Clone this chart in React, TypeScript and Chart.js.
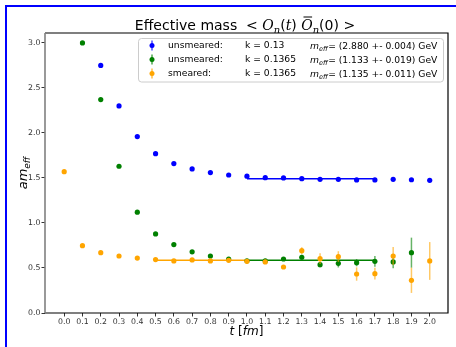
import React, { useEffect, useRef } from "react";
import { Chart, registerables } from "chart.js";
Chart.register(...registerables);

const xTicks = [0.0, 0.1, 0.2, 0.3, 0.4, 0.5, 0.6, 0.7, 0.8, 0.9, 1.0, 1.1, 1.2, 1.3, 1.4, 1.5, 1.6, 1.7, 1.8, 1.9, 2.0];
const yTicks = [0.0, 0.5, 1.0, 1.5, 2.0, 2.5, 3.0];

const tBlue = [0.2, 0.3, 0.4, 0.5, 0.6, 0.7, 0.8, 0.9, 1.0, 1.1, 1.2, 1.3, 1.4, 1.5, 1.6, 1.7, 1.8, 1.9, 2.0];
const blueValues = [2.75, 2.30, 1.96, 1.77, 1.66, 1.60, 1.56, 1.533, 1.52, 1.503, 1.50, 1.492, 1.485, 1.485, 1.478, 1.478, 1.485, 1.48, 1.474];
const blueErrors = [0.002, 0.002, 0.002, 0.002, 0.002, 0.002, 0.002, 0.002, 0.003, 0.003, 0.003, 0.003, 0.003, 0.004, 0.004, 0.004, 0.005, 0.005, 0.006];

const tGreen = [0.1, 0.2, 0.3, 0.4, 0.5, 0.6, 0.7, 0.8, 0.9, 1.0, 1.1, 1.2, 1.3, 1.4, 1.5, 1.6, 1.7, 1.8, 1.9];
const greenValues = [3.0, 2.37, 1.63, 1.12, 0.878, 0.76, 0.68, 0.633, 0.60, 0.58, 0.578, 0.60, 0.619, 0.537, 0.552, 0.559, 0.574, 0.567, 0.67];
const greenErrors = [0.003, 0.003, 0.003, 0.004, 0.005, 0.006, 0.008, 0.01, 0.012, 0.015, 0.015, 0.02, 0.028, 0.03, 0.046, 0.04, 0.06, 0.07, 0.167];

const tOrange = [0.0, 0.1, 0.2, 0.3, 0.4, 0.5, 0.6, 0.7, 0.8, 0.9, 1.0, 1.1, 1.2, 1.3, 1.4, 1.5, 1.6, 1.7, 1.8, 1.9, 2.0];
const orangeValues = [1.57, 0.748, 0.67, 0.633, 0.61, 0.593, 0.578, 0.589, 0.578, 0.585, 0.574, 0.567, 0.511, 0.692, 0.603, 0.626, 0.433, 0.437, 0.633, 0.363, 0.578];
const orangeErrors = [0.003, 0.003, 0.003, 0.004, 0.005, 0.006, 0.008, 0.01, 0.012, 0.015, 0.015, 0.015, 0.02, 0.037, 0.06, 0.06, 0.074, 0.065, 0.10, 0.14, 0.21];

const blueFitRange = [1.0, 1.7];
const blueFitValue = 1.49;
const greenFitRange = [1.0, 1.7];
const greenFitValue = 0.585;
const orangeFitRange = [0.5, 1.0];
const orangeFitValue = 0.585;

const legendNames = ["unsmeared:", "unsmeared:", "smeared:"];
const legendKappas = ["k = 0.13", "k = 0.1365", "k = 0.1365"];
const legendMeff = ["= (2.880 +- 0.004) GeV", "= (1.133 +- 0.019) GeV", "= (1.135 +- 0.011) GeV"];

const BLUE = "#0000ff";
const GREEN = "#008000";
const ORANGE = "#ffa500";
const legendColors = [BLUE, GREEN, ORANGE];
const FONT = "'DejaVu Sans', sans-serif";

const pts = (xs: number[], ys: number[]) => xs.map((x, i) => ({ x, y: ys[i] }));

const errorBarPlugin = {
  id: "errbars",
  beforeDatasetDraw(chart: any, args: any) {
    const ds = chart.data.datasets[args.index];
    if (!ds.errors) return;
    const ctx = chart.ctx;
    const xs = chart.scales.x;
    const ys = chart.scales.y;
    ctx.save();
    ctx.strokeStyle = ds.errorColor;
    ctx.lineWidth = 1.5;
    ds.data.forEach((p: any, i: number) => {
      const e = ds.errors[i];
      const px = xs.getPixelForValue(p.x);
      ctx.beginPath();
      ctx.moveTo(px, ys.getPixelForValue(p.y - e));
      ctx.lineTo(px, ys.getPixelForValue(p.y + e));
      ctx.stroke();
    });
    ctx.restore();
  },
};

function drawPieces(ctx: CanvasRenderingContext2D, pieces: any[], x: number, y: number) {
  let cx = x;
  for (const p of pieces) {
    ctx.font = p.font;
    const w = ctx.measureText(p.text).width;
    ctx.fillText(p.text, cx, y + (p.dy || 0));
    if (p.bar) {
      ctx.save();
      ctx.lineWidth = 1;
      ctx.strokeStyle = "#000";
      ctx.beginPath();
      ctx.moveTo(cx + w * 0.2, y - 12.5);
      ctx.lineTo(cx + w * 0.95, y - 12.5);
      ctx.stroke();
      ctx.restore();
    }
    cx += w + (p.after || 0);
  }
  return cx - x;
}

function measurePieces(ctx: CanvasRenderingContext2D, pieces: any[]) {
  let w = 0;
  for (const p of pieces) {
    ctx.font = p.font;
    w += ctx.measureText(p.text).width + (p.after || 0);
  }
  return w;
}

const decorPlugin = {
  id: "decor",
  afterDraw(chart: any) {
    const ctx = chart.ctx;
    const a = chart.chartArea;
    ctx.save();
    // spines
    ctx.lineWidth = 1.2;
    ctx.strokeStyle = "#000";
    ctx.beginPath();
    ctx.moveTo(a.left, a.top);
    ctx.lineTo(a.right, a.top);
    ctx.lineTo(a.right, a.bottom);
    ctx.lineTo(a.left, a.bottom);
    ctx.stroke();
    ctx.strokeStyle = "#808080";
    ctx.lineWidth = 1.6;
    ctx.beginPath();
    ctx.moveTo(a.left, a.top);
    ctx.lineTo(a.left, a.bottom);
    ctx.stroke();

    // title
    ctx.fillStyle = "#000";
    ctx.textBaseline = "alphabetic";
    ctx.textAlign = "left";
    const tf = `14px ${FONT}`;
    const ti = `italic 14px 'DejaVu Serif', serif`;
    const ts = `italic 10px 'DejaVu Serif', serif`;
    const titlePieces = [
      { text: "Effective mass  < ", font: tf },
      { text: "O", font: ti },
      { text: "n", font: ts, dy: 3 },
      { text: "(", font: tf },
      { text: "t", font: ti },
      { text: ") ", font: tf },
      { text: "O", font: ti, bar: true },
      { text: "n", font: ts, dy: 3 },
      { text: "(0) >", font: tf },
    ];
    const tw = measurePieces(ctx, titlePieces);
    drawPieces(ctx, titlePieces, 245 - tw / 2, 29.5);

    // x label
    const xf = `12px ${FONT}`;
    const xi = `italic 12px ${FONT}`;
    const xPieces = [
      { text: "t", font: xi },
      { text: " [", font: xf },
      { text: "fm", font: xi },
      { text: "]", font: xf },
    ];
    const xw = measurePieces(ctx, xPieces);
    drawPieces(ctx, xPieces, (a.left + a.right) / 2 - xw / 2, 335);

    // y label
    ctx.save();
    ctx.translate(27, 173);
    ctx.rotate(-Math.PI / 2);
    const yPieces = [
      { text: "am", font: `italic 13px ${FONT}` },
      { text: "eff", font: `italic 9px ${FONT}`, dy: 2.5 },
    ];
    const yw = measurePieces(ctx, yPieces);
    drawPieces(ctx, yPieces, -yw / 2, 0);
    ctx.restore();

    // legend
    const lx = 138.5, ly = 38.5, lw = 305, lh = 43.5, r = 3;
    ctx.fillStyle = "rgba(255,255,255,0.85)";
    ctx.strokeStyle = "#cccccc";
    ctx.lineWidth = 1;
    ctx.beginPath();
    ctx.moveTo(lx + r, ly);
    ctx.lineTo(lx + lw - r, ly);
    ctx.arcTo(lx + lw, ly, lx + lw, ly + r, r);
    ctx.lineTo(lx + lw, ly + lh - r);
    ctx.arcTo(lx + lw, ly + lh, lx + lw - r, ly + lh, r);
    ctx.lineTo(lx + r, ly + lh);
    ctx.arcTo(lx, ly + lh, lx, ly + lh - r, r);
    ctx.lineTo(lx, ly + r);
    ctx.arcTo(lx, ly, lx + r, ly, r);
    ctx.closePath();
    ctx.fill();
    ctx.stroke();

    const rows = [45.5, 59.5, 73.5];
    const lf = `9.2px ${FONT}`;
    rows.forEach((ry, i) => {
      const c = legendColors[i];
      ctx.strokeStyle = c;
      ctx.globalAlpha = 0.7;
      ctx.lineWidth = 1.5;
      ctx.beginPath();
      ctx.moveTo(152, ry - 5);
      ctx.lineTo(152, ry + 5);
      ctx.stroke();
      ctx.globalAlpha = 1;
      ctx.fillStyle = c;
      ctx.beginPath();
      ctx.arc(152, ry, 2.5, 0, Math.PI * 2);
      ctx.fill();
      ctx.fillStyle = "#000";
      ctx.textBaseline = "middle";
      ctx.font = lf;
      ctx.fillText(legendNames[i], 168, ry);
      ctx.fillText(legendKappas[i], 245, ry);
      ctx.textBaseline = "alphabetic";
      const base = ry + 3.3;
      drawPieces(ctx, [
        { text: "m", font: `italic 9.2px ${FONT}` },
        { text: "eff", font: `italic 6.5px ${FONT}`, dy: 2, after: 0.5 },
        { text: legendMeff[i], font: lf },
      ], 310, base);
    });
    ctx.restore();
  },
};

export default function App() {
  const ref = useRef<HTMLCanvasElement | null>(null);
  useEffect(() => {
    if (!ref.current) return;
    const pointDs = (label: string, xs: number[], ys: number[], errs: number[], color: string, errColor: string, order: number) => ({
      type: "scatter" as const,
      label,
      data: pts(xs, ys),
      errors: errs,
      errorColor: errColor,
      backgroundColor: color,
      borderColor: color,
      pointRadius: 2.6,
      pointBorderWidth: 0,
      showLine: false,
      order,
    });
    const lineDs = (range: number[], v: number, color: string) => ({
      type: "line" as const,
      data: pts(range, [v, v]),
      borderColor: color,
      borderWidth: 1.5,
      pointRadius: 0,
      fill: false,
      order: 10,
    });
    const chart = new Chart(ref.current, {
      type: "scatter",
      data: {
        datasets: [
          lineDs(blueFitRange, blueFitValue, BLUE),
          lineDs(greenFitRange, greenFitValue, GREEN),
          lineDs(orangeFitRange, orangeFitValue, ORANGE),
          pointDs("unsmeared k=0.13", tBlue, blueValues, blueErrors, BLUE, "rgba(0,0,255,0.6)", 3),
          pointDs("unsmeared k=0.1365", tGreen, greenValues, greenErrors, GREEN, "rgba(0,128,0,0.6)", 2),
          pointDs("smeared k=0.1365", tOrange, orangeValues, orangeErrors, ORANGE, "rgba(255,165,0,0.6)", 1),
        ] as any,
      },
      options: {
        animation: false,
        responsive: false,
        devicePixelRatio: 1,
        layout: { padding: { left: 0, right: 8, top: 33, bottom: 0 } },
        plugins: { legend: { display: false }, tooltip: { enabled: false }, title: { display: false } },
        scales: {
          x: {
            type: "linear",
            min: -0.105,
            max: 2.1,
            afterBuildTicks: (s: any) => { s.ticks = xTicks.map((v) => ({ value: v })); },
            afterFit: (s: any) => { s.height = 34; },
            ticks: {
              autoSkip: false,
              maxRotation: 0,
              padding: 1,
              color: "#333",
              font: { family: FONT, size: 7.8 },
              callback: (v: any) => Number(v).toFixed(1),
            },
            grid: { drawOnChartArea: false, drawTicks: true, tickLength: 3.5, color: "#333" },
            border: { display: false },
          },
          y: {
            type: "linear",
            min: 0,
            max: 3.11,
            afterBuildTicks: (s: any) => { s.ticks = yTicks.map((v) => ({ value: v })); },
            afterFit: (s: any) => { s.width = 45; },
            ticks: {
              autoSkip: false,
              padding: 1,
              color: "#333",
              font: { family: FONT, size: 7.8 },
              callback: (v: any) => Number(v).toFixed(1),
            },
            grid: { drawOnChartArea: false, drawTicks: true, tickLength: 3.5, color: "#333" },
            border: { display: false },
          },
        },
      },
      plugins: [errorBarPlugin, decorPlugin],
    } as any);
    return () => chart.destroy();
  }, []);
  return (
    <div style={{ position: "fixed", left: 0, top: 0, width: 456, height: 347, overflow: "hidden", background: "#fff" }}>
      <canvas ref={ref} width={456} height={347} style={{ display: "block", width: 456, height: 347 }} />
      <div style={{ position: "absolute", left: 5, top: 5, width: 600, height: 600, borderLeft: "2px solid #0000ff", borderTop: "2px solid #0000ff", pointerEvents: "none" }} />
    </div>
  );
}
